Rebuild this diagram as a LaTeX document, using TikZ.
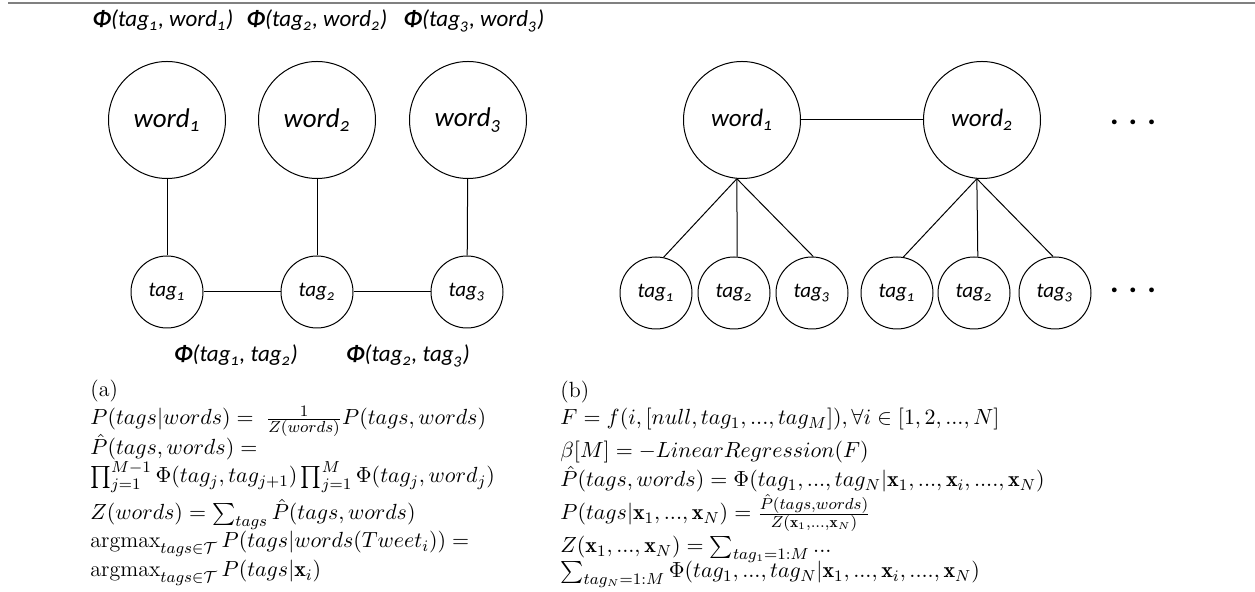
\documentclass[tikz,border=0pt]{standalone}
\usepackage{amsmath,amssymb}
\usepackage{fontspec}
\usetikzlibrary{shapes.geometric}
\newfontfamily\lbl[Numbers=OldStyle]{Carlito}
\begin{document}
\begin{tikzpicture}[x=0.5pt,y=-0.5pt,
  wordc/.style={circle,draw,line width=0.5pt,minimum size=58.5pt,inner sep=0pt,font=\lbl\itshape\fontsize{13.5}{15}\selectfont},
  wordr/.style={wordc,font=\lbl\itshape\fontsize{12.5}{14}\selectfont},
  tagc/.style={circle,draw,line width=0.5pt,minimum size=36pt,inner sep=0pt,font=\lbl\itshape\fontsize{10.5}{12}\selectfont},
  phil/.style={inner sep=0pt,anchor=base,font=\lbl\itshape\fontsize{11.5}{13}\selectfont},
  eq/.style={inner sep=0pt,anchor=base west,font=\fontsize{11}{13}\selectfont},
  dotsl/.style={inner sep=0pt,font=\lbl\bfseries\fontsize{16}{18}\selectfont},
  conn/.style={line width=0.5pt}]
\useasboundingbox (0,0) rectangle (1255,592);
\coordinate (tl) at (8,3);
\coordinate (tr) at (1255,3);
\draw[line width=1pt,gray] (tl) -- (tr);

% top labels
\node[phil] (p1) at (163,27) {{\bfseries Φ}(tag\textsubscript{1}, word\textsubscript{1})};
\node[phil] (p2) at (317,27) {{\bfseries Φ}(tag\textsubscript{2}, word\textsubscript{2})};
\node[phil] (p3) at (474,27) {{\bfseries Φ}(tag\textsubscript{3}, word\textsubscript{3})};

% left graph
\node[wordc] (w1) at (167,120) {word\textsubscript{1}};
\node[wordc] (w2) at (317,120) {word\textsubscript{2}};
\node[wordc] (w3) at (468,120) {word\textsubscript{3}};
\node[tagc] (t1) at (167,292) {tag\textsubscript{1}};
\node[tagc] (t2) at (317,292) {tag\textsubscript{2}};
\node[tagc] (t3) at (467,292) {tag\textsubscript{3}};
\draw[conn] (w1) -- (t1);
\draw[conn] (w2) -- (t2);
\draw[conn] (w3) -- (t3);
\draw[conn] (t1) -- (t2);
\draw[conn] (t2) -- (t3);

\node[phil] (q1) at (236,362) {{\bfseries Φ}(tag\textsubscript{1}, tag\textsubscript{2})};
\node[phil] (q2) at (408,362) {{\bfseries Φ}(tag\textsubscript{2}, tag\textsubscript{3})};

% right graph
\node[wordr] (r1) at (742,120) {word\textsubscript{1}};
\node[wordr] (r2) at (982,120) {word\textsubscript{2}};
\draw[conn] (r1) -- (r2);
\node[tagc] (a1) at (656,293) {tag\textsubscript{1}};
\node[tagc] (a2) at (734,293) {tag\textsubscript{2}};
\node[tagc] (a3) at (812,293) {tag\textsubscript{3}};
\node[tagc] (b1) at (897,293) {tag\textsubscript{1}};
\node[tagc] (b2) at (974,293) {tag\textsubscript{2}};
\node[tagc] (b3) at (1055,293) {tag\textsubscript{3}};
\draw[conn] (r1.265) -- (a1.78);
\draw[conn] (r1.265) -- (a2.85);
\draw[conn] (r1.265) -- (a3.88);
\draw[conn] (r2.265) -- (b1.80);
\draw[conn] (r2.265) -- (b2.84);
\draw[conn] (r2.265) -- (b3.93);
\node[dotsl] (d1) at (1133,122) {.\hspace{5pt}.\hspace{5pt}.};
\node[dotsl] (d2) at (1133,290) {.\hspace{5pt}.\hspace{5pt}.};

% (a) formulas
\node[eq] (ea0) at (90,397) {(a)};
\node[eq] (ea1) at (90,425) {$P(tags|words) = \;\frac{1}{Z(words)}P(tags, words)$};
\node[eq] (ea2) at (90,455) {$\hat{P}(tags, words) =$};
\node[eq] (ea3) at (90,483) {$\prod_{j=1}^{M-1}\Phi(tag_j, tag_{j+1})\prod_{j=1}^{M}\Phi(tag_j, word_j)$};
\node[eq] (ea4) at (90,520) {$Z(words) = \sum_{tags}\hat{P}(tags, words)$};
\node[eq] (ea5) at (90,548) {$\mathrm{argmax}_{tags\in\mathcal{T}}\, P(tags|words(Tweet_i)) =$};
\node[eq] (ea6) at (90,577) {$\mathrm{argmax}_{tags\in\mathcal{T}}\, P(tags|\mathbf{x}_i)$};

% (b) formulas
\node[eq] (eb0) at (560,398) {(b)};
\node[eq] (eb1) at (560,425) {$F = f(i, [null, tag_1, ..., tag_M]), \forall i\in[1, 2, ..., N]$};
\node[eq] (eb2) at (560,458) {$\beta[M] = -LinearRegression(F)$};
\node[eq] (eb3) at (560,487) {$\hat{P}(tags, words) = \Phi(tag_1, ..., tag_N|\mathbf{x}_1, ..., \mathbf{x}_i, ...., \mathbf{x}_N)$};
\node[eq] (eb4) at (560,520) {$P(tags|\mathbf{x}_1, ..., \mathbf{x}_N) = \frac{\hat{P}(tags, words)}{Z(\mathbf{x}_1, ..., \mathbf{x}_N)}$};
\node[eq] (eb5) at (560,553) {$Z(\mathbf{x}_1, ..., \mathbf{x}_N) = \sum_{tag_1=1:M} ...$};
\node[eq] (eb6) at (560,578) {$\sum_{tag_N=1:M}\Phi(tag_1, ..., tag_N|\mathbf{x}_1, ..., \mathbf{x}_i, ...., \mathbf{x}_N)$};
\end{tikzpicture}
\end{document}
